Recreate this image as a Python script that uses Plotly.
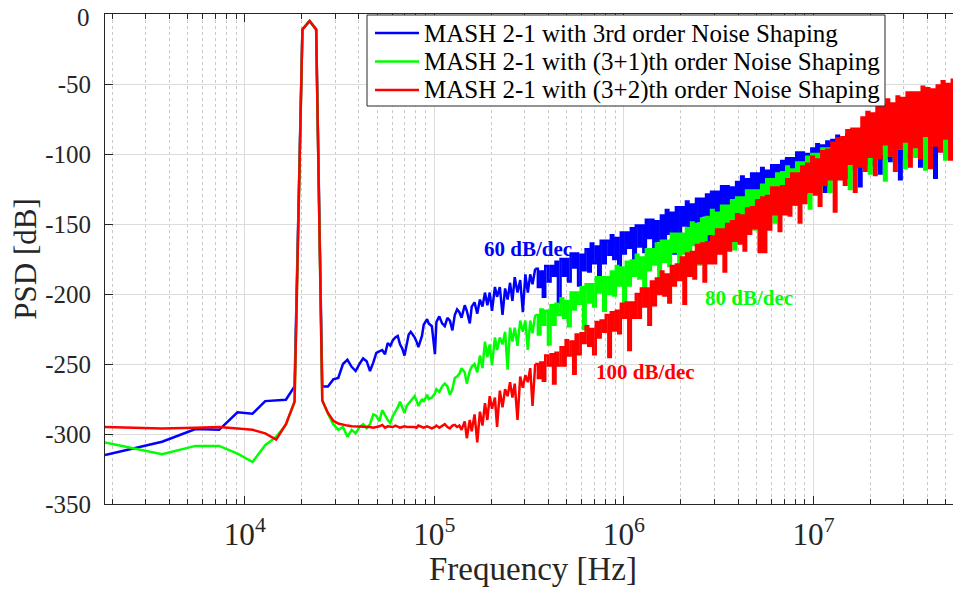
import math
import plotly.graph_objects as go

# FFT setup of the simulation (bin k -> k * FS / NFFT Hz)
FS = 120e6
NFFT = 65536

bins = [
    1, 2, 3, 4, 5, 6, 7, 8, 9, 10,
    11, 12, 13, 14, 15, 16, 17, 18, 19, 20,
    21, 22, 23, 24, 25, 26, 27, 28, 29, 30,
    31, 32, 33, 34, 35, 36, 37, 38, 39,
    40, 41, 43, 44, 45, 47, 48, 50, 51, 53,
    55, 56, 58, 60, 62, 64, 66, 68, 70, 72,
    74, 76, 79, 81, 84, 86, 89, 92, 95, 98,
    101, 104, 107, 110, 114, 117, 121, 125, 129, 133,
    137, 141, 145, 150, 155, 160, 165, 170, 175, 180,
    186, 192, 198, 204, 210, 217, 224, 231, 238, 245,
    253, 261, 269, 277, 286, 295, 304, 313, 323, 333,
    343, 354, 365, 376, 388, 400, 412, 425, 438, 452,
    466, 480, 495, 510, 526, 542, 559, 576, 594, 612,
    631, 651, 671, 692, 713, 735, 758, 781, 805, 830,
    856, 882, 909, 937, 966, 996, 1027, 1059, 1092, 1126,
    1161, 1197, 1234, 1272, 1311, 1352, 1394, 1437, 1481, 1527,
    1574, 1623, 1673, 1725, 1778, 1833, 1890, 1948, 2008, 2070,
    2134, 2200, 2268, 2338, 2410, 2485, 2562, 2641, 2723, 2807,
    2894, 2983, 3075, 3170, 3268, 3369, 3473, 3580, 3691, 3805,
    3923, 4044, 4169, 4298, 4431, 4568, 4709, 4855, 5005, 5160,
    5320, 5484, 5654, 5829, 6009, 6195, 6387, 6584, 6788, 6998,
    7214, 7437, 7667, 7904, 8149, 8401, 8661, 8929, 9205, 9490,
    9784, 10087, 10399, 10721, 11053, 11395, 11748, 12111, 12486, 12872,
    13270, 13681, 14104, 14541, 14991, 15455, 15933, 16426, 16934, 17458,
    17998, 18555, 19129, 19721, 20331, 20960, 21609, 22278, 22967, 23678,
    24411, 25166, 25945, 26748, 27576, 28429, 29309, 30216, 31151, 32115,
    32768,
]

psd_3rd = [
    -315, -305.5, -296.5, -297, -284.5, -285.5, -276.5, -276, -275.5, -266,
    -11, -5, -11, -266, -266, -261, -260, -250, -247, -252,
    -255, -250, -246, -248, -255, -249, -242, -241, -240, -243,
    -235, -237, -233, -231, -230, -236, -239, -244, -236,
    -229, -227, -231, -234, -238, -230, -222, -218, -221, -223,
    -243, -220, -216, -221, -223, -217, -219, -226, -215, -211,
    -213, -217, -208, -212, -221, -209, -206, -214, -204, -209,
    -199, -208, -199, -212, -195, -202, -195, -215, -196, -204,
    -192, -205, -188, -199, -190, -213, -186, -199, -186, -193,
    -182, -195, -184, -202, -180, -191, -180, -187, -177, -206,
    -175, -187, -175, -191, -171, -181, -171, -194, -172, -183,
    -168, -184, -164, -178, -166, -192, -162, -178, -162, -172,
    -158, -175, -160, -182, -156, -171, -156, -167, -153, -186,
    -151, -166, -151, -170, -147, -160, -147, -173, -148, -162,
    -144, -163, -140, -157, -142, -171, -138, -157, -138, -151,
    -134, -152, -136, -159, -132, -148, -132, -144, -129, -163,
    -127, -144, -127, -148, -123, -138, -123, -151, -124, -140,
    -120, -140, -116, -134, -118, -148, -114, -134, -114, -128,
    -110, -130, -112, -137, -108, -126, -108, -122, -105, -141,
    -103, -121, -103, -125, -99, -115, -99, -128, -100, -117,
    -96, -118, -93, -112, -94, -127, -91, -113, -90, -107,
    -87, -110, -90, -117, -86, -107, -87, -104, -84, -123,
    -82, -104, -83, -108, -80, -100, -81, -114, -83, -103,
    -79, -105, -77, -99, -79, -118, -77, -103, -77, -97,
    -75, -101, -79, -109, -76, -100, -77, -97, -75, -117,
    -75, -98, -76, -103, -73, -95, -75, -110, -77, -100,
    -74,
]

psd_3p1 = [
    -306, -314.5, -308.5, -308.5, -314, -320, -308, -302, -293.5, -277,
    -11, -5, -11, -276, -285.5, -293, -297, -295, -302, -297,
    -299.5, -295, -293, -296, -293, -286, -287, -291, -283, -287,
    -290, -292, -287, -284, -281, -277, -281, -285, -280,
    -278, -276, -273, -276, -280, -275, -277, -272, -275, -274,
    -271, -268, -270, -266, -264, -266, -272, -268, -260, -259,
    -257, -253, -256, -264, -255, -252, -250, -256, -244, -253,
    -234, -245, -236, -251, -231, -240, -231, -236, -227, -254,
    -224, -234, -224, -237, -219, -227, -219, -240, -219, -228,
    -215, -229, -211, -222, -212, -236, -208, -222, -207, -215,
    -203, -217, -205, -223, -199, -211, -199, -207, -195, -225,
    -193, -206, -193, -209, -188, -199, -188, -212, -188, -200,
    -184, -201, -180, -194, -181, -208, -177, -194, -176, -187,
    -172, -189, -174, -195, -168, -183, -168, -179, -164, -197,
    -162, -177, -162, -180, -157, -170, -157, -183, -157, -171,
    -153, -172, -149, -165, -150, -179, -146, -165, -145, -157,
    -140, -159, -142, -165, -137, -154, -137, -150, -133, -168,
    -131, -148, -131, -151, -126, -141, -126, -154, -126, -142,
    -122, -143, -118, -136, -118, -149, -114, -135, -113, -128,
    -109, -130, -111, -136, -106, -125, -106, -121, -102, -139,
    -100, -120, -100, -124, -96, -114, -96, -127, -96, -115,
    -93, -117, -89, -110, -91, -125, -87, -111, -87, -105,
    -83, -107, -86, -114, -81, -104, -82, -100, -79, -119,
    -78, -101, -79, -105, -75, -96, -76, -110, -77, -99,
    -74, -102, -71, -96, -73, -111, -71, -98, -71, -92,
    -69, -96, -72, -104, -68, -94, -70, -91, -67, -111,
    -70,
]

psd_3p2 = [
    -295, -296, -295.5, -295, -296, -297, -299.5, -304, -293, -277,
    -11, -5, -11, -276, -285, -290.5, -292.5, -293.5, -294, -294.5,
    -294.5, -295, -295, -294.5, -295, -295.5, -295, -294.5, -293.5, -295.5,
    -294.5, -295, -295, -294, -295, -295.5, -295, -294.5, -295,
    -295, -294.5, -295, -295.5, -294, -295, -295.5, -294.5, -295, -296,
    -295, -294, -295.5, -294.5, -293, -295, -296, -294, -293.5, -295,
    -294, -297, -291, -303, -290, -298, -286, -306, -284, -294,
    -278, -290, -273, -282, -274, -295, -269, -281, -268, -273,
    -263, -274, -264, -290, -259, -267, -258, -263, -253, -280,
    -250, -260, -249, -262, -244, -251, -243, -264, -242, -251,
    -238, -251, -233, -244, -234, -257, -229, -243, -228, -235,
    -223, -237, -225, -243, -220, -231, -219, -227, -215, -245,
    -213, -226, -212, -228, -207, -217, -206, -240, -206, -217,
    -200, -217, -196, -209, -196, -222, -191, -208, -189, -200,
    -184, -201, -186, -206, -180, -194, -179, -190, -174, -207,
    -171, -187, -170, -189, -165, -178, -164, -191, -163, -178,
    -159, -178, -154, -171, -154, -184, -150, -169, -148, -162,
    -143, -164, -144, -169, -139, -157, -138, -153, -133, -170,
    -131, -170, -130, -154, -124, -143, -124, -155, -123, -143,
    -118, -144, -114, -136, -114, -149, -109, -135, -107, -127,
    -102, -129, -104, -137, -98, -122, -97, -118, -92, -141,
    -89, -118, -88, -122, -83, -107, -82, -127, -82, -109,
    -74, -112, -70, -102, -71, -115, -66, -103, -65, -93,
    -61, -101, -64, -112, -59, -96, -60, -91, -56, -109,
    -56, -95, -56, -103, -52, -87, -53, -110, -54, -94,
    -51, -98, -48, -89, -50, -104, -47, -94, -48, -84,
    -46,
]

assert len(bins) == len(psd_3rd) == len(psd_3p1) == len(psd_3p2), \
    (len(bins), len(psd_3rd), len(psd_3p1), len(psd_3p2))

freqs = [b * FS / NFFT for b in bins]

series = [
    ("MASH 2-1 with 3rd order Noise Shaping", psd_3rd, "#0000ff"),
    ("MASH 2-1 with (3+1)th order Noise Shaping", psd_3p1, "#00ff00"),
    ("MASH 2-1 with (3+2)th order Noise Shaping", psd_3p2, "#ff0000"),
]

FONT = "Liberation Serif"
AX = "#262626"

# the page body has an 8px margin, so the figure is laid out 8px in
OFF = 8
W, H = 961 - OFF, 595 - 2 * OFF
ML, MR, MT, MB = 105 - OFF, 0, 14 - OFF, H - (504 - OFF)
PW, PH = W - ML - MR, H - MT - MB


def px2paper(px, py):
    # page pixel -> paper fraction
    return (px - OFF - ML) / PW, (H - MB - (py - OFF)) / PH


# where the spectrum becomes dense enough to render as a solid band
split = bins.index(186)

fig = go.Figure()
for name, vals, col in series:
    fig.add_trace(go.Scatter(x=freqs[:split + 1], y=vals[:split + 1],
                             mode="lines", name=name, showlegend=False,
                             line=dict(color=col, width=2.5)))
    fig.add_trace(go.Scatter(x=freqs[split:], y=vals[split:],
                             mode="lines", name=name, showlegend=False,
                             line=dict(color=col, width=2.5, shape="hv")))

# slope labels (x in log10 units)
slopes = [("60 dB/dec", 5.493, -168, "#0000ff"),
          ("80 dB/dec", 6.66, -203, "#00ff00"),
          ("100 dB/dec", 6.116, -256, "#ff0000")]
for txt, lx, ly, col in slopes:
    fig.add_annotation(x=lx, y=ly, text="<b>%s</b>" % txt, showarrow=False,
                       font=dict(family=FONT, size=21, color=col))

# legend box drawn above the traces, like the MATLAB one
bx0, by1 = px2paper(367, 15)
bx1, by0 = px2paper(885, 106)
fig.add_shape(type="rect", xref="paper", yref="paper", x0=bx0, x1=bx1,
              y0=by0, y1=by1, fillcolor="white", layer="above",
              line=dict(color=AX, width=1))
for i, (name, vals, col) in enumerate(series):
    rowy = 33 + 28.5 * i
    lx0, ly = px2paper(375, rowy)
    lx1, _ = px2paper(419, rowy)
    fig.add_shape(type="line", xref="paper", yref="paper", x0=lx0, x1=lx1,
                  y0=ly, y1=ly, layer="above", line=dict(color=col, width=2.5))
    tx, _ = px2paper(422, rowy)
    fig.add_annotation(xref="paper", yref="paper", x=tx, y=ly, text=name,
                       xanchor="left", yanchor="middle", showarrow=False,
                       font=dict(family=FONT, size=25, color="black"))

yt = list(range(-350, 1, 50))
# the top label "0" would be clipped at the page edge: draw it a touch lower
ylabels = [str(v) if v != 0 else "" for v in yt]
fig.add_annotation(xref="paper", yref="y", x=0, y=0, text="0",
                   xanchor="right", yanchor="middle", xshift=-13, yshift=-3,
                   showarrow=False,
                   font=dict(family=FONT, size=25, color=AX))

fig.update_layout(
    width=W, height=H,
    margin=dict(l=ML, r=MR, t=MT, b=MB),
    paper_bgcolor="white", plot_bgcolor="white",
    font=dict(family=FONT, color=AX),
    showlegend=False,
    xaxis=dict(type="log", range=[math.log10(FS / NFFT), math.log10(FS / 2)],
               dtick=1, exponentformat="power", automargin=False,
               showline=True, linecolor=AX, linewidth=1, mirror="allticks",
               ticks="inside", ticklen=8, tickcolor=AX,
               showgrid=True, gridcolor="#dcdcdc", gridwidth=1,
               minor=dict(ticks="inside", ticklen=5, tickcolor=AX,
                          showgrid=True, gridcolor="#c8c8c8", griddash="dot"),
               tickfont=dict(family=FONT, size=25, color=AX),
               ticklabelstandoff=4, ticklabeloverflow="allow",
               zeroline=False,
               title=dict(text="Frequency [Hz]", standoff=17,
                          font=dict(family=FONT, size=33, color=AX))),
    yaxis=dict(range=[-350, 0], tickvals=yt, ticktext=ylabels,
               automargin=False,
               showline=True, linecolor=AX, linewidth=1, mirror="allticks",
               ticks="inside", ticklen=8, tickcolor=AX,
               showgrid=True, gridcolor="#dcdcdc", gridwidth=1,
               tickfont=dict(family=FONT, size=25, color=AX),
               ticklabelstandoff=8, ticklabeloverflow="allow",
               zeroline=False,
               title=dict(text="PSD [dB]", standoff=0,
                          font=dict(family=FONT, size=31, color=AX))),
)

fig.write_html("out.html")
